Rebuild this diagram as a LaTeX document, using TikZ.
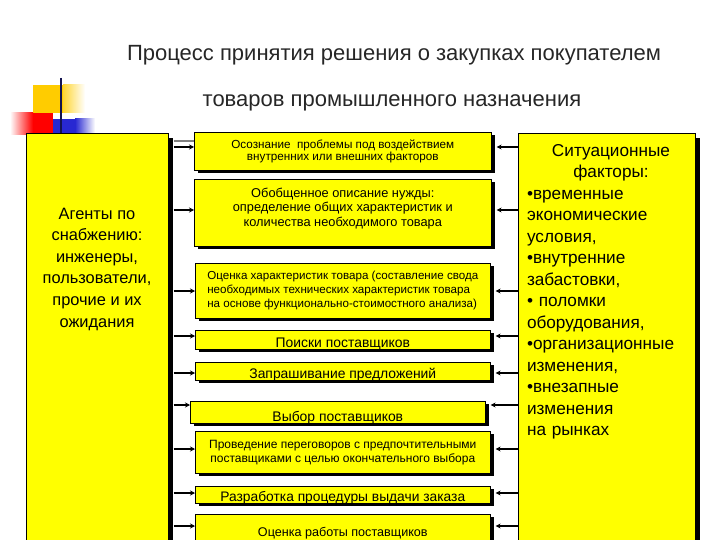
\documentclass[tikz,border=0pt]{standalone}
\usepackage{fontspec}
\setmainfont{Liberation Sans}
\usetikzlibrary{shadows,arrows.meta,calc}
\definecolor{yel}{RGB}{255,255,0}
\definecolor{gold}{RGB}{255,204,0}
\definecolor{navy}{RGB}{20,20,80}
\definecolor{dblue}{RGB}{40,40,210}
\newcommand\lowr[2]{\raisebox{-#1}[0pt][0pt]{#2}}
\begin{document}
\begin{tikzpicture}[x=1pt,y=-1pt,
  box/.style={draw=black, line width=0.6pt, fill=yel, anchor=north west, inner sep=0pt, align=center,
    general shadow={fill=black, shadow xshift=4pt, shadow yshift=-3pt}},
  bigbox/.style={draw=black, line width=0.6pt, fill=yel, anchor=north west, inner sep=0pt,
    general shadow={fill=black, shadow xshift=5pt, shadow yshift=-5pt}},
  arr/.style={line width=1.6pt, -{Stealth[length=5pt,width=5pt]}},
  ttl/.style={font=\fontsize{22}{26}\selectfont, text=black!85}]
\useasboundingbox (0,0) rectangle (720,540);
\clip (0,0) rectangle (720,540);
% decoration
\fill[gold] (33,85) rectangle (63,113);
\shade[left color=gold!80, right color=white] (63,85) rectangle (85,113);
\shade[left color=white, right color=red] (10,113) rectangle (33,135);
\fill[red] (33,113) rectangle (53,135);
\fill[dblue] (53,119) rectangle (75,135);
\shade[left color=dblue, right color=white] (75,119) rectangle (95,135);
\draw[navy, line width=2pt] (61,78) -- (61,135);
% title
\node[ttl] (t1) at (394,55) {Процесс принятия решения о закупках покупателем};
\node[ttl] (t2) at (392,103) {товаров промышленного назначения};
% big boxes
\node[bigbox, minimum width=142, minimum height=430] (L) at (26,133) {};
\node[bigbox, minimum width=177, minimum height=430] (R) at (518,133) {};
\node[font=\fontsize{16.4}{21.6}\selectfont, align=center] (Lt) at (97,269)
  {Агенты по\\снабжению:\\инженеры,\\пользователи,\\прочие и их\\ожидания};
\node[font=\fontsize{17.2}{21.5}\selectfont, text width=168pt, align=left, anchor=north, inner sep=0pt] (Rt) at (611,144)
  {{\centering Ситуационные\\факторы:\par}
   •временные\\экономические\\условия,\\•внутренние\\забастовки,\\• поломки\\оборудования,\\•организационные\\изменения,\\•внезапные\\изменения\\на рынках};
% middle boxes
\node[box, minimum width=297, minimum height=38, font=\fontsize{11.7}{11.5}\selectfont] (b1) at (194,132)
  {Осознание \ проблемы под воздействием\\внутренних или внешних факторов};
\node[box, minimum width=297, minimum height=67, font=\fontsize{12.8}{14.5}\selectfont] (b2) at (194,179)
  {\lowr{-1pt}{\begin{tabular}{@{}c@{}}Обобщенное описание нужды:\\определение общих характеристик и\\количества необходимого товара\end{tabular}}};
\node[box, minimum width=295, minimum height=55, font=\fontsize{11.6}{14}\selectfont, align=left] (b3) at (195,263)
  {Оценка характеристик товара (составление свода\\необходимых технических характеристик товара\\на основе функционально-стоимостного анализа)};
\node[box, minimum width=295, minimum height=19, font=\fontsize{13.9}{15}\selectfont] (b4) at (195,330)
  {\lowr{7.5pt}{Поиски поставщиков}};
\node[box, minimum width=295, minimum height=18, font=\fontsize{13.9}{15}\selectfont] (b5) at (195,362)
  {\lowr{7pt}{Запрашивание предложений}};
\node[box, minimum width=295, minimum height=22, font=\fontsize{13.9}{15}\selectfont] (b6) at (190,401)
  {\lowr{9pt}{Выбор поставщиков}};
\node[box, minimum width=295, minimum height=42, font=\fontsize{12}{14}\selectfont] (b7) at (195,431)
  {Проведение переговоров с предпочтительными\\поставщиками с целью окончательного выбора};
\node[box, minimum width=295, minimum height=17, font=\fontsize{13.8}{15}\selectfont] (b8) at (195,486)
  {\lowr{7pt}{Разработка процедуры выдачи заказа}};
\node[box, minimum width=295, minimum height=50, font=\fontsize{12.6}{14}\selectfont] (b9) at (195,514)
  {\lowr{-3pt}{Оценка работы поставщиков}};
% arrow levels
\coordinate (y0) at (0,141);
\coordinate (y1) at (0,147);
\coordinate (y2) at (0,210);
\coordinate (y3) at (0,291);
\coordinate (y4) at (0,336);
\coordinate (y5) at (0,373);
\coordinate (y6) at (0,405);
\coordinate (y7) at (0,449);
\coordinate (y8) at (0,493);
\coordinate (y9) at (0,526);
\draw[gray, line width=2pt] ($(L.east |- y0)+(5,0)$) -- (b1.west |- y0);
\foreach \i in {1,...,9}{
  \draw[arr] ($(L.east |- y\i)+(5,0)$) -- (b\i.west |- y\i);
  \draw[arr] (R.west |- y\i) -- ($(b\i.east |- y\i)+(5,0)$);
}
\end{tikzpicture}
\end{document}
